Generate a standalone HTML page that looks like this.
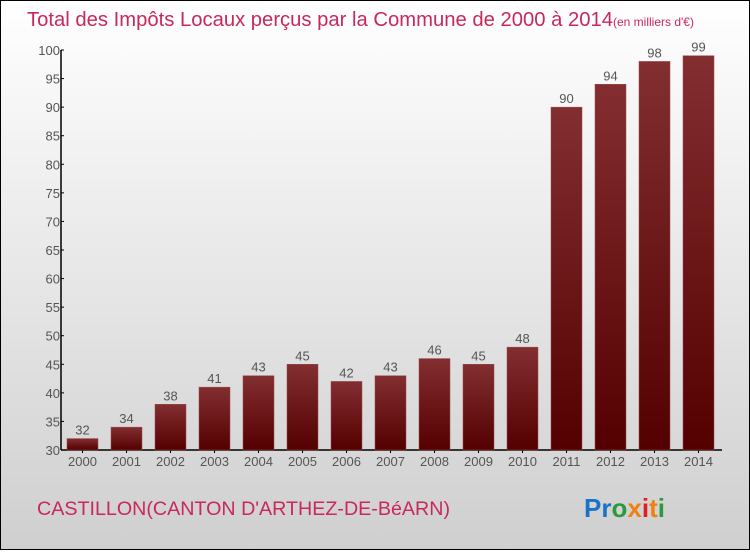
<!DOCTYPE html>
<html><head><meta charset="utf-8"><style>
html,body{margin:0;padding:0}
body{width:750px;height:550px;overflow:hidden;font-family:"Liberation Sans",sans-serif}
#wrap{position:relative;width:748px;height:548px;border:1px solid #000;background:linear-gradient(#ffffff,#cfcfcf)}
</style></head><body>
<div id="wrap">
<svg id="chart" width="748" height="548">
<defs><linearGradient id="bg" x1="0" y1="0" x2="0" y2="1"><stop offset="0" stop-color="#832e30"/><stop offset="1" stop-color="#540001"/></linearGradient></defs>
<text x="26" y="25" font-size="20" fill="#c8285a"><tspan textLength="586" lengthAdjust="spacingAndGlyphs">Total des Impôts Locaux perçus par la Commune de 2000 à 2014</tspan><tspan font-size="12">(en milliers d'€)</tspan></text>
<text x="36" y="514" font-size="19" fill="#c8285a" textLength="413" lengthAdjust="spacingAndGlyphs">CASTILLON(CANTON D'ARTHEZ-DE-BéARN)</text>
<g font-size="26" font-weight="bold">
<text x="583" y="516"><tspan fill="#1a73c8">Pr</tspan><tspan fill="#2a9a3a">o</tspan><tspan fill="#f08010">x</tspan><tspan fill="#e02020">i</tspan><tspan fill="#f08010">t</tspan><tspan fill="#2a9a3a">i</tspan></text>
</g>
<g id="axes"></g><g id="bars"></g>
</svg>
</div>
<script>
const years=["2000","2001","2002","2003","2004","2005","2006","2007","2008","2009","2010","2011","2012","2013","2014"];
const values=[32,34,38,41,43,45,42,43,46,45,48,90,94,98,99];
const yTicks=[30,35,40,45,50,55,60,65,70,75,80,85,90,95,100];
const NS="http://www.w3.org/2000/svg";
const ax=document.getElementById('axes'),bg=document.getElementById('bars');
const y0=449,yMin=30,yMax=100,yTop=49,axisX=60;
function y(v){return y0-(v-yMin)/(yMax-yMin)*(y0-yTop);}
function xc(i){return 81.5+i*44;}
function mk(t,a,p){const e=document.createElementNS(NS,t);for(const k in a)e.setAttribute(k,a[k]);p.appendChild(e);return e;}
const yl=mk('line',{x1:axisX,y1:yTop,x2:axisX,y2:y0,stroke:'#000','stroke-width':1.5},ax);


const xl=mk('line',{x1:axisX,y1:y0,x2:721,y2:y0,stroke:'#000','stroke-width':1.5},ax);


yTicks.forEach(v=>{
 mk('line',{x1:axisX,y1:y(v),x2:axisX+3,y2:y(v),stroke:'#000'},ax);
 const t=mk('text',{x:axisX-1,y:y(v)+5,'font-size':13,fill:'#555','text-anchor':'end'},ax);
 t.textContent=v;
 
 
});
years.forEach((yr,i)=>{
 const v=values[i],cx=xc(i);
 const r=mk('rect',{x:cx-15.5,y:y(v),width:31,height:y0-y(v),fill:'url(#bg)',stroke:'#9a4a4c','stroke-width':0.5},bg);
 
 
 const l=mk('text',{x:cx,y:y(v)-4,'font-size':13,fill:'#555','text-anchor':'middle'},bg);
 l.textContent=v;
 
 
 mk('line',{x1:cx,y1:y0,x2:cx,y2:y0+3,stroke:'#000'},ax);
 const xt=mk('text',{x:cx,y:y0+16,'font-size':13,fill:'#555','text-anchor':'middle'},ax);
 xt.textContent=yr;
 
 
});
</script>
</body></html>
